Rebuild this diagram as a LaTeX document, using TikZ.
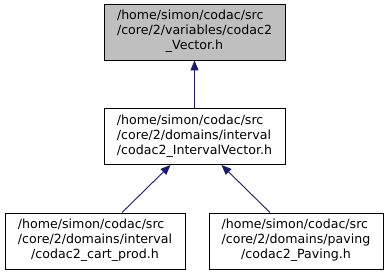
\documentclass[tikz,border=0pt]{standalone}
\usepackage{fontspec}
\setmainfont{DejaVu Sans}
\usetikzlibrary{arrows.meta}
\definecolor{edgeblue}{HTML}{191970}
\definecolor{boxgray}{HTML}{BFBFBF}
\newcommand\lbl[3]{\begin{tabular}{@{}l@{}}#1\\#2\\\multicolumn{1}{@{}c@{}}{#3}\end{tabular}}
\tikzset{
  filebox/.style={draw=black, line width=0.9pt, inner sep=0pt, minimum height=56pt,
    font=\fontsize{12.6}{15}\selectfont},
  dep/.style={draw=edgeblue, line width=0.9pt, {Triangle[length=10pt,width=8pt]}-}
}
\begin{document}
\begin{tikzpicture}[x=1pt,y=-1pt]
\useasboundingbox (0,0) rectangle (389,275);
\node[filebox, fill=boxgray, minimum width=181pt] (top) at (194.5,32)
  {\lbl{/home/simon/codac/src}{/core/2/variables/codac2}{\_Vector.h}};
\node[filebox, minimum width=181pt] (mid) at (194.5,136.5)
  {\lbl{/home/simon/codac/src}{/core/2/domains/interval}{/codac2\_IntervalVector.h}};
\node[filebox, minimum width=180pt] (bl) at (95,241)
  {\lbl{/home/simon/codac/src}{/core/2/domains/interval}{/codac2\_cart\_prod.h}};
\node[filebox, minimum width=174pt] (br) at (296,241)
  {\lbl{/home/simon/codac/src}{/core/2/domains/paving}{/codac2\_Paving.h}};
\draw[dep] (top.south) -- (mid.north);
\draw[dep] ([xshift=-24pt]mid.south) -- ([xshift=27pt]bl.north);
\draw[dep] ([xshift=27pt]mid.south) -- ([xshift=-26pt]br.north);
\end{tikzpicture}
\end{document}
